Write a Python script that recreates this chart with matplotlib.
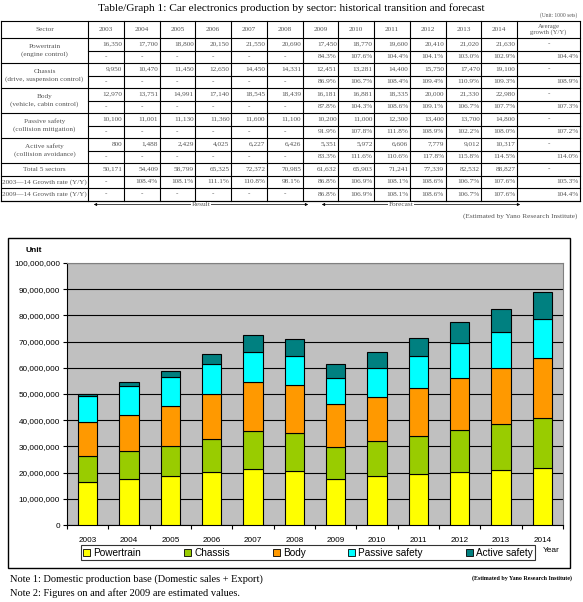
import matplotlib
matplotlib.use("Agg")
import matplotlib.pyplot as plt
from matplotlib.patches import Rectangle, Patch
import numpy as np

years = ["2003", "2004", "2005", "2006", "2007", "2008",
         "2009", "2010", "2011", "2012", "2013", "2014"]
sector_names = ["Powertrain", "Chassis", "Body", "Passive safety", "Active safety"]
sector_labels = ["Powertrain\n(engine control)",
                 "Chassis\n(drive, suspension control)",
                 "Body\n(vehicle, cabin control)",
                 "Passive safety\n(collision mitigation)",
                 "Active safety\n(collision avoidance)"]

# production, 1000 sets
powertrain = [16350, 17700, 18800, 20150, 21550, 20690, 17450, 18770, 19600, 20410, 21020, 21630]
chassis    = [9950, 10470, 11450, 12650, 14450, 14331, 12451, 13281, 14400, 15750, 17470, 19100]
body       = [12970, 13751, 14991, 17140, 18545, 18439, 16181, 16881, 18335, 20000, 21330, 22980]
passive    = [10100, 11001, 11130, 11360, 11600, 11100, 10200, 11000, 12300, 13400, 13700, 14800]
active     = [800, 1488, 2429, 4025, 6227, 6426, 5351, 5972, 6606, 7779, 9012, 10317]
total      = [50171, 54409, 58799, 65325, 72372, 70985, 61632, 65903, 71241, 77339, 82532, 88827]

# growth rates (Y/Y, %) 2009-2014 and average
powertrain_g = [84.3, 107.6, 104.4, 104.1, 103.0, 102.9]
chassis_g    = [86.9, 106.7, 108.4, 109.4, 110.9, 109.3]
body_g       = [87.8, 104.3, 108.6, 109.1, 106.7, 107.7]
passive_g    = [91.9, 107.8, 111.8, 108.9, 102.2, 108.0]
active_g     = [83.3, 111.6, 110.6, 117.8, 115.8, 114.5]
avg_g        = [104.4, 108.9, 107.3, 107.2, 114.0]
growth_0314  = [None, 108.4, 108.1, 111.1, 110.8, 98.1, 86.8, 106.9, 108.1, 108.6, 106.7, 107.6]
growth_0914  = [None, None, None, None, None, None, 86.8, 106.9, 108.1, 108.6, 106.7, 107.6]
avg_0314 = 105.3
avg_0914 = 104.4

colors = ["#FFFF00", "#99CC00", "#FF9900", "#00FFFF", "#008080"]

W, H = 583, 602
fig = plt.figure(figsize=(W / 100, H / 100), dpi=100)
bg = fig.add_axes([0, 0, 1, 1])
bg.set_xlim(0, W)
bg.set_ylim(H, 0)
bg.axis("off")

SERIF = "Liberation Serif"
SANS = "Liberation Sans"
tcol = "#555555"
tfs = 5.2

# ---------------- Table ----------------
bg.text(291, 8, "Table/Graph 1: Car electronics production by sector: historical transition and forecast",
        ha="center", va="center", fontsize=8.2, family=SERIF)
bg.text(577, 15, "(Unit: 1000 sets)", ha="right", va="center", fontsize=4, family=SERIF, color=tcol)

x0, xs, xe = 1, 88, 580
ncol = len(years)
cw = (517 - xs) / ncol
colx = [xs + i * cw for i in range(ncol + 1)] + [xe]
ytop, yhead = 21, 38
rh = 12.5
nrows = 13
ybot = yhead + rh * nrows

lw = 0.8
bg.plot([x0, xe], [ytop, ytop], color="k", lw=lw)
bg.plot([x0, xe], [ybot, ybot], color="k", lw=lw)
bg.plot([x0, x0], [ytop, ybot], color="k", lw=lw)
for cx in colx:
    bg.plot([cx, cx], [ytop, ybot], color="k", lw=lw)
bg.plot([x0, xe], [yhead, yhead], color="k", lw=lw)

bg.text((x0 + xs) / 2, (ytop + yhead) / 2, "Sector", ha="center", va="center",
        fontsize=tfs, family=SERIF, color=tcol)
for i, yv in enumerate(years):
    bg.text((colx[i] + colx[i + 1]) / 2, (ytop + yhead) / 2, yv, ha="center", va="center",
            fontsize=tfs, family=SERIF, color=tcol)
bg.text((colx[-2] + colx[-1]) / 2, (ytop + yhead) / 2, "Average\ngrowth (Y/Y)", ha="center",
        va="center", fontsize=tfs - 0.4, family=SERIF, color=tcol, linespacing=1.0)

def cell_right(i, y, s):
    bg.text(colx[i + 1] - 1.5, y, s, ha="right", va="center", fontsize=tfs, family=SERIF, color=tcol)

def cell_center(i, y, s):
    bg.text((colx[i] + colx[i + 1]) / 2, y, s, ha="center", va="center", fontsize=tfs,
            family=SERIF, color=tcol)

sector_vals = [powertrain, chassis, body, passive, active]
sector_g = [powertrain_g, chassis_g, body_g, passive_g, active_g]
for k in range(5):
    ya = yhead + rh * 2 * k
    yb = ya + rh
    yc = yb + rh
    bg.plot([xs, xe], [yb, yb], color="k", lw=lw)
    bg.plot([x0, xe], [yc, yc], color="k", lw=lw)
    bg.text((x0 + xs) / 2, yb, sector_labels[k], ha="center", va="center", fontsize=tfs,
            family=SERIF, color=tcol, linespacing=1.5)
    for i in range(ncol):
        cell_right(i, ya + rh / 2, f"{sector_vals[k][i]:,}")
        if i < 6:
            cell_center(i, yb + rh / 2, "-")
        else:
            cell_right(i, yb + rh / 2, f"{sector_g[k][i - 6]:.1f}%")
    cell_center(ncol, ya + rh / 2, "-")
    cell_right(ncol, yb + rh / 2, f"{avg_g[k]:.1f}%")

extra = [("Total 5 sectors", [f"{v:,}" for v in total], "-"),
         ("2003—14 Growth rate (Y/Y)", ["-" if v is None else f"{v:.1f}%" for v in growth_0314], f"{avg_0314:.1f}%"),
         ("2009—14 Growth rate (Y/Y)", ["-" if v is None else f"{v:.1f}%" for v in growth_0914], f"{avg_0914:.1f}%")]
for j, (lab, vals, av) in enumerate(extra):
    ya = yhead + rh * (10 + j)
    bg.plot([x0, xe], [ya + rh, ya + rh], color="k", lw=lw)
    bg.text((x0 + xs) / 2, ya + rh / 2, lab, ha="center", va="center", fontsize=tfs,
            family=SERIF, color=tcol)
    for i, s in enumerate(vals):
        if s == "-":
            cell_center(i, ya + rh / 2, s)
        else:
            cell_right(i, ya + rh / 2, s)
    if av == "-":
        cell_center(ncol, ya + rh / 2, av)
    else:
        cell_right(ncol, ya + rh / 2, av)

# Result / Forecast arrows
ya = ybot + 4
bg.annotate("", xy=(91, ya), xytext=(311, ya),
            arrowprops=dict(arrowstyle="<|-|>", lw=0.5, color="k", mutation_scale=4))
bg.text(201, ya, "Result", ha="center", va="center", fontsize=tfs, family=SERIF, color=tcol,
        bbox=dict(facecolor="white", edgecolor="none", pad=0.3))
bg.annotate("", xy=(319, ya), xytext=(523, ya),
            arrowprops=dict(arrowstyle="<|-|>", lw=0.5, color="k", mutation_scale=4))
bg.text(401, ya, "Forecast", ha="center", va="center", fontsize=tfs, family=SERIF, color=tcol,
        bbox=dict(facecolor="white", edgecolor="none", pad=0.3))
bg.text(577, ya + 12, "(Estimated by Yano Research Institute)", ha="right", va="center",
        fontsize=tfs, family=SERIF, color=tcol)

# ---------------- Chart ----------------
bg.add_patch(Rectangle((8, 238), 562, 330, fill=False, edgecolor="k", lw=1.0))
bg.text(25, 250, "Unit", ha="left", va="center", fontsize=6, family=SANS, weight="bold")

pl, pt, pr, pb = 67, 263, 563, 525
ax = fig.add_axes([pl / W, 1 - pb / H, (pr - pl) / W, (pb - pt) / H])
ax.set_facecolor("#C0C0C0")
x = np.arange(len(years))
series = [powertrain, chassis, body, passive, active]
bottom = np.zeros(len(years))
for vals, c, name in zip(series, colors, sector_names):
    v = np.array(vals) * 1000.0
    ax.bar(x, v, width=0.46, bottom=bottom, color=c, edgecolor="k", linewidth=0.8, zorder=3, label=name)
    bottom += v
ax.set_xlim(-0.5, len(years) - 0.5)
ax.set_ylim(0, 100_000_000)
ax.set_yticks(np.arange(0, 100_000_001, 10_000_000))
ax.set_yticklabels([f"{int(t):,}" for t in ax.get_yticks()], fontsize=5.9, family=SANS)
ax.yaxis.grid(True, color="k", lw=0.8, zorder=1)
ax.set_axisbelow(True)
ax.set_xticks(x)
ax.set_xticklabels(years, fontsize=5.9, family=SANS)
ax.set_xticks(np.arange(-0.5, len(years)), minor=True)
ax.tick_params(axis="x", which="major", length=0, pad=9)
ax.tick_params(axis="x", which="minor", length=3, width=0.8, direction="out")
ax.tick_params(axis="y", length=3, width=0.8, pad=2)
for s in ["top", "right"]:
    ax.spines[s].set_color("#808080")
    ax.spines[s].set_linewidth(0.8)
for s in ["left", "bottom"]:
    ax.spines[s].set_color("k")
    ax.spines[s].set_linewidth(0.8)

handles = [Patch(facecolor=c, edgecolor="k", linewidth=0.6) for c in colors]
leg = fig.legend(handles, sector_names, loc="center", ncol=5,
                 bbox_to_anchor=(308 / W, 1 - 552.5 / H), frameon=True, fancybox=False,
                 prop=dict(family=SANS, size=7.2), handlelength=0.7, handleheight=0.7,
                 handletextpad=0.3, columnspacing=4.3, borderpad=0.25, borderaxespad=0,
                 edgecolor="k")
leg.get_frame().set_linewidth(0.8)
bg.text(543, 551, "Year", ha="left", va="center", fontsize=6, family=SANS)

bg.text(10, 579, "Note 1: Domestic production base (Domestic sales + Export)", ha="left",
        va="center", fontsize=7.5, family=SERIF)
bg.text(10, 593, "Note 2: Figures on and after 2009 are estimated values.", ha="left",
        va="center", fontsize=7.5, family=SERIF)
bg.text(572, 578, "(Estimated by Yano Research Institute)", ha="right", va="center",
        fontsize=4.3, family=SERIF, weight="bold")

fig.savefig("out.png", dpi=100)
